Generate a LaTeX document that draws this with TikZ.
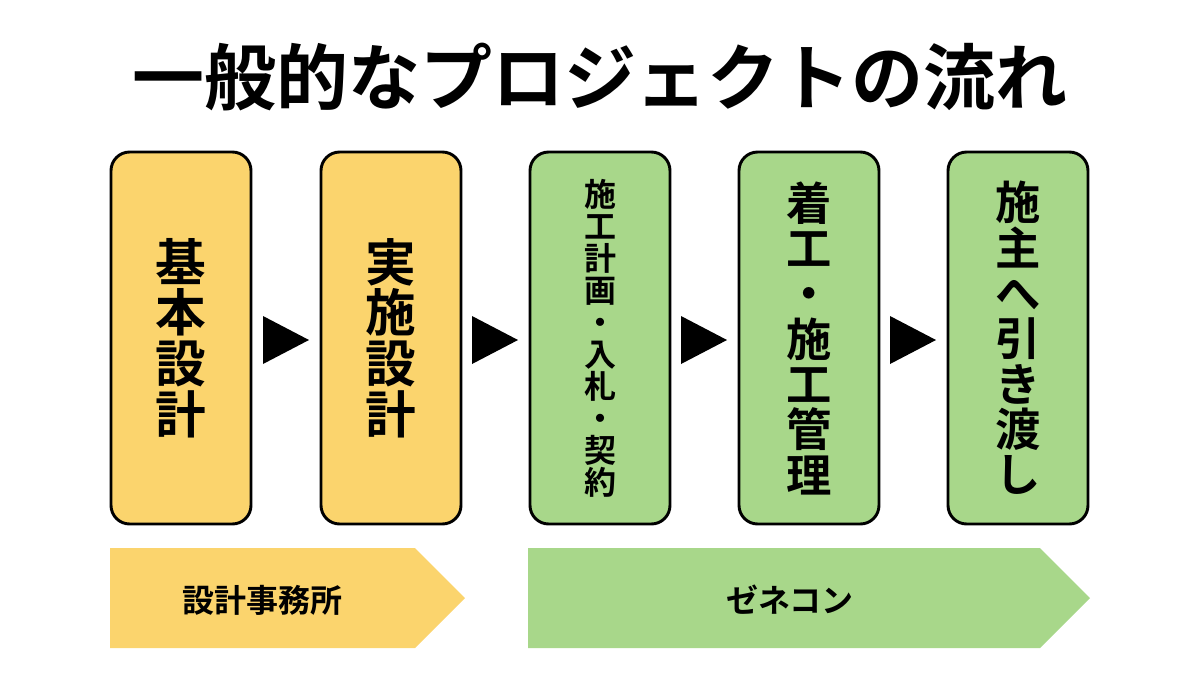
\documentclass[tikz,border=0pt]{standalone}
\usepackage{fontspec}
\setmainfont{Noto Sans CJK JP Bold}
\usetikzlibrary{positioning,shapes}
\definecolor{sekkei}{HTML}{FBD46D}
\definecolor{zenecon}{HTML}{A8D78A}
\tikzset{
  stepbox/.style={draw=black,line width=2.2pt,rounded corners=14pt,minimum width=105pt,minimum height=279pt,inner sep=0pt,align=center},
  tri/.style={fill=black}
}
\newcommand{\vfont}[1]{\fontsize{#1}{#1}\selectfont}

\begin{document}
\begin{tikzpicture}[x=0.75pt,y=-0.75pt]
    \useasboundingbox (0,0) rectangle (1200,676);
    \node (title) at (600,77) {\fontsize{54}{54}\selectfont 一般的なプロジェクトの流れ};

    \node[stepbox,fill=sekkei] (step1) at (181,338) {};
    \node[stepbox,fill=sekkei] (step2) at (391,338) {};
    \node[stepbox,fill=zenecon] (step3) at (600,338) {};
    \node[stepbox,fill=zenecon] (step4) at (809,338) {};
    \node[stepbox,fill=zenecon] (step5) at (1018,338) {};

    \node[align=center,font=\vfont{38}] at (step1) {基\\本\\設\\計};
    \node[align=center,font=\vfont{38}] at (step2) {実\\施\\設\\計};
    \node[align=center,font=\vfont{24}] at (step3) {施\\工\\計\\画\\・\\入\\札\\・\\契\\約};
    \node[align=center,font=\vfont{34}] at (step4) {着\\工\\・\\施\\工\\管\\理};
    \node[align=center,font=\vfont{34}] at (step5) {施\\主\\へ\\引\\き\\渡\\し};

    \foreach \x in {263,472,681,890}
        \fill[tri] (\x,316) -- (\x+46,340) -- (\x,364) -- cycle;

    \fill[sekkei] (110,548) -- (415,548) -- (465,598) -- (415,648) -- (110,648) -- cycle;
    \fill[zenecon] (528,548) -- (1040,548) -- (1090,598) -- (1040,648) -- (528,648) -- cycle;
    \node[font=\vfont{24}] (office) at (262,600) {設計事務所};
    \node[font=\vfont{24}] (gc) at (790,600) {ゼネコン};
\end{tikzpicture}
\end{document}
